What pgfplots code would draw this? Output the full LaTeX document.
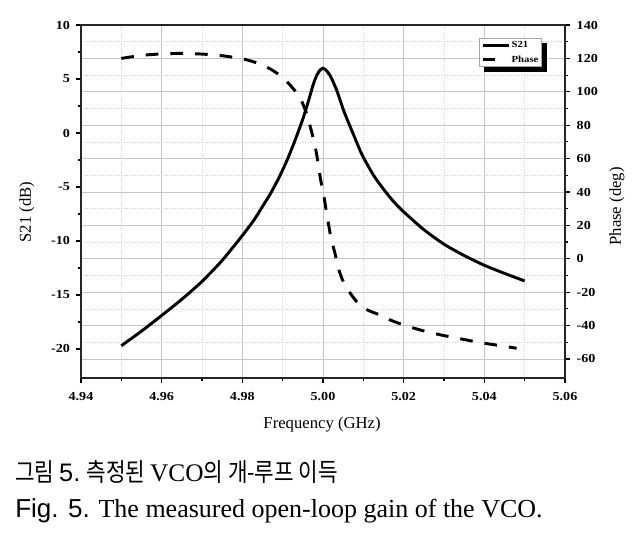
\documentclass[border=0pt]{standalone}
\usepackage{pgfplots}
\pgfplotsset{compat=1.18}
\usepackage{pgfplotstable}
\usepackage{fontspec}
\setmainfont{Liberation Serif}
\newfontfamily\tickfont[FakeStretch=1.15]{Liberation Serif}
\newfontfamily\capsans{Liberation Sans}
\newfontfamily\kr[FakeStretch=0.84]{Noto Sans CJK KR}

\pgfplotstableread{
f s
4.9500 -19.7
4.9550 -18.35
4.9600 -16.9
4.9650 -15.4
4.9700 -13.75
4.9750 -11.8
4.9800 -9.5
4.9830 -8.0
4.9850 -6.8
4.9870 -5.6
4.9890 -4.2
4.9910 -2.6
4.9930 -0.75
4.9950 1.3
4.9965 3.1
4.9975 4.4
4.9984 5.3
4.9992 5.8
5.0000 6.0
5.0008 5.8
5.0017 5.35
5.0025 4.75
5.0034 3.95
5.0042 3.1
5.0050 2.2
5.0060 1.25
5.0070 0.35
5.0080 -0.55
5.0090 -1.45
5.0100 -2.25
5.0125 -3.9
5.0150 -5.2
5.0175 -6.35
5.0200 -7.3
5.0250 -8.95
5.0300 -10.3
5.0350 -11.35
5.0400 -12.25
5.0450 -13.0
5.0500 -13.7
}\sdata

\pgfplotstableread{
f p
4.9500 120.0
4.9550 121.8
4.9600 122.7
4.9650 123.0
4.9700 122.6
4.9750 121.6
4.9800 119.8
4.9836 117.3
4.9870 113.6
4.9902 108.2
4.9931 100.5
4.9946 95.0
4.9960 86.5
4.9968 79.5
4.9976 72.0
4.9983 64.2
4.9989 55.5
4.9994 47.5
5.0003 36.5
5.0009 27.0
5.0015 19.0
5.0020 12.0
5.0030 3.0
5.0036 -4.0
5.0048 -12.5
5.0063 -19.0
5.0084 -25.8
5.0110 -30.6
5.0134 -33.0
5.0164 -36.4
5.0199 -39.6
5.0248 -43.1
5.0290 -45.5
5.0339 -47.8
5.0385 -50.0
5.0447 -52.3
5.0480 -53.6
}\pdata

\pgfplotsset{
  myaxis/.style={
    scale only axis, width=363pt, height=264.75pt,
    at={(60.75pt,-283.5pt)}, anchor=south west,
    xmin=4.94, xmax=5.06,
    tick align=outside,
    major tick length=3.75pt, minor tick length=2.3pt,
    every tick/.style={black, line width=0.9pt},
    axis line style={line width=1.1pt, black!85},
    tick label style={font=\tickfont\bfseries\fontsize{9.2}{11}\selectfont},
    xticklabel style={yshift=-3.5pt},
    label style={font=\fontsize{12.5}{14}\selectfont},
    major grid style={gray!45, line width=0.6pt},
    minor grid style={gray!30, line width=0.5pt, dash pattern=on 1pt off 1pt},
  }
}

\begin{document}
\begin{tikzpicture}[x=0.75pt,y=-0.75pt]
\pgfplotsset{set layers}
\path (0,0) rectangle (636,537);

% right axis: phase
\begin{axis}[myaxis,
  ymin=-71.4, ymax=140,
  hide x axis, axis y line*=right,
  ytick={-60,-40,-20,0,20,40,60,80,100,120,140},
  yticklabels={-60,-40,-20,0,20,40,60,80,100,120,140},
  yticklabel style={xshift=1.5pt},
  minor y tick num=1,
  ymajorgrids, yminorgrids,
  ylabel={Phase (deg)},
  ylabel style={at={(axis description cs:1.107,0.486)}, anchor=center},
]
\addplot[black, line width=2.2pt, dash pattern=on 9.5pt off 9pt, smooth, tension=0.4] table[x=f, y=p] {\pdata};
\end{axis}

% left axis: S21
\begin{axis}[myaxis,
  ymin=-22.69, ymax=10,
  xtick={4.94,4.96,4.98,5.00,5.02,5.04,5.06},
  xticklabels={4.94,4.96,4.98,5.00,5.02,5.04,5.06},
  minor x tick num=1,
  xmajorgrids, xminorgrids,
  ytick={-20,-15,-10,-5,0,5,10},
  yticklabels={-20,-15,-10,-5,0,5,10},
  yticklabel style={xshift=-1pt},
  minor y tick num=1,
  xtick pos=bottom, ytick pos=left,
  xlabel={Frequency (GHz)},
  xlabel style={at={(axis description cs:0.498,-0.133)}, anchor=center},
  ylabel={S21 (dB)},
  ylabel style={at={(axis description cs:-0.1116,0.47)}, anchor=center},
  legend style={name=leg, at={(axis description cs:0.9525,0.964)}, anchor=north east,
    draw=gray!70, line width=0.5pt, fill=white,
    font=\tickfont\bfseries\fontsize{7}{8}\selectfont,
    inner sep=1.8pt, row sep=3.5pt,
    nodes={inner sep=0.6pt, text height=5pt, text depth=1pt}},
  legend cell align=left,
  legend image code/.code={\draw[#1] (0pt,0pt) -- (20pt,0pt);},
]
\addplot[black, line width=2.2pt, smooth, tension=0.4] table[x=f, y=s] {\sdata};
\addlegendentry{S21}
\addlegendimage{black, line width=2.2pt, dash pattern=on 9.5pt off 20pt}
\addlegendentry{Phase}
\end{axis}
\fill[black] ([shift={(4pt,-4pt)}]leg.south west) rectangle ([shift={(4pt,-4pt)}]leg.north east);

\node[anchor=base west, inner sep=0] at (15,481) {\kr\fontsize{19}{22}\selectfont 그림 {\capsans 5.} 측정된 {\rmfamily VCO}의 개-루프 이득};
\node[anchor=base west, inner sep=0] at (15,517) {\fontsize{19.5}{22}\selectfont {\capsans Fig. 5.} The measured open-loop gain of the VCO.};
\end{tikzpicture}
\end{document}
